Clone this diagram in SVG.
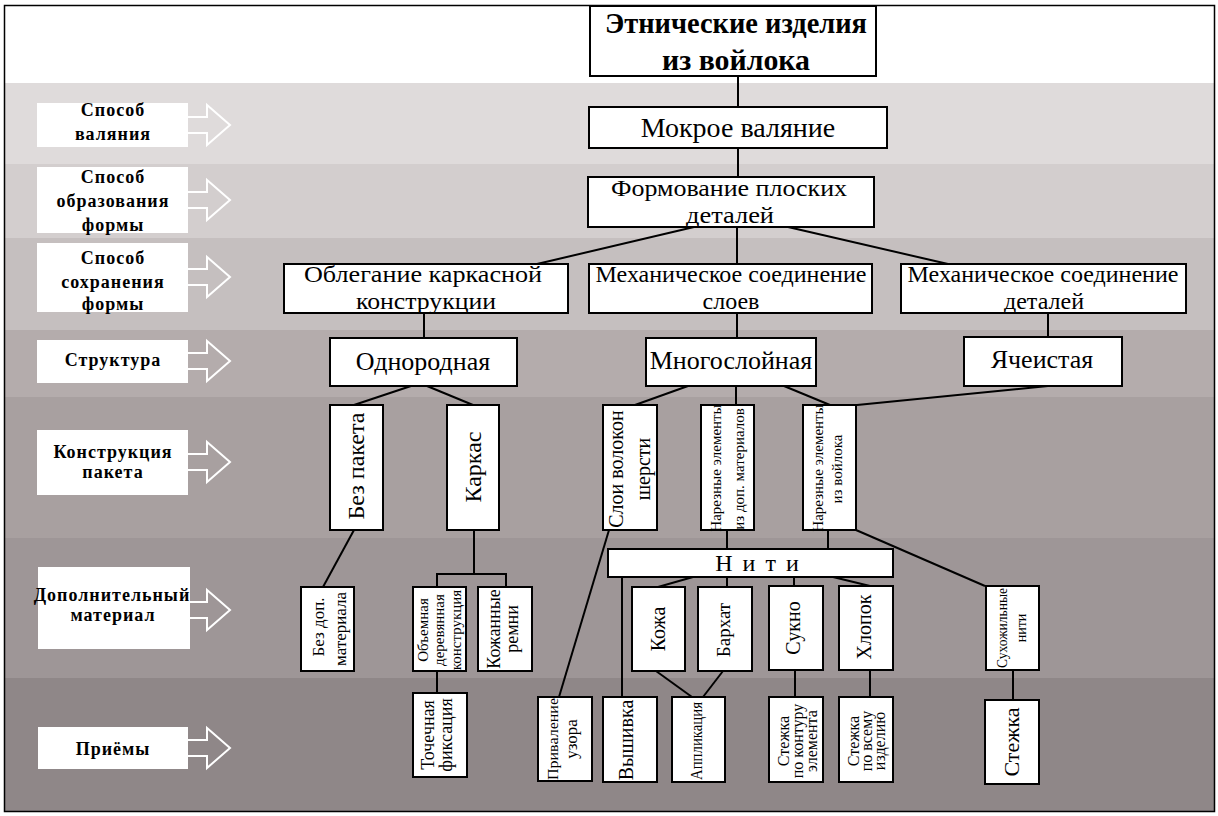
<svg xmlns="http://www.w3.org/2000/svg" width="1218" height="816" viewBox="0 0 1218 816">
<style>
.box{fill:#fff;stroke:#000;stroke-width:2}
.lb{fill:#fff}
.arr{fill:none;stroke:#fff;stroke-width:2;stroke-linejoin:miter}
.t{font-family:"Liberation Serif","Times New Roman",serif;fill:#000;text-anchor:middle}
.b{font-weight:bold;font-size:18px;letter-spacing:1px}
.v{dominant-baseline:central}
.cn{stroke:#000;stroke-width:2;fill:none}
</style>
<defs>
<path id="ar" d="M0,-8 H19 V-20 L42,0 L19,20 V8 H0" class="arr"/>
</defs>
<rect x="0" y="0" width="1218" height="816" fill="#fff"/>
<g id="bands">
<rect x="4" y="83" width="1211" height="81" fill="#dfdbdb"/>
<rect x="4" y="164" width="1211" height="74" fill="#d3cece"/>
<rect x="4" y="238" width="1211" height="92" fill="#c5bfbf"/>
<rect x="4" y="330" width="1211" height="67" fill="#b4acac"/>
<rect x="4" y="397" width="1211" height="141" fill="#a8a0a0"/>
<rect x="4" y="538" width="1211" height="140" fill="#9e9697"/>
<rect x="4" y="678" width="1211" height="134" fill="#8f8788"/>
</g>
<rect x="4.5" y="5.5" width="1210" height="806" fill="none" stroke="#000" stroke-width="1.5"/>

<g id="legend">
<g id="lg1"><rect class="lb" x="37" y="103" width="151" height="44"/><use href="#ar" x="188" y="125"/>
<text class="t b" x="113" y="116">Способ</text><text class="t b" x="113" y="140">валяния</text></g>
<g id="lg2"><rect class="lb" x="37" y="167" width="151" height="66"/><use href="#ar" x="188" y="200"/>
<text class="t b" x="113" y="183">Способ</text><text class="t b" x="113" y="207">образования</text><text class="t b" x="113" y="231">формы</text></g>
<g id="lg3"><rect class="lb" x="37" y="243" width="151" height="69"/><use href="#ar" x="188" y="277"/>
<text class="t b" x="113" y="264">Способ</text><text class="t b" x="113" y="288">сохранения</text><text class="t b" x="113" y="310">формы</text></g>
<g id="lg4"><rect class="lb" x="37" y="340" width="151" height="43"/><use href="#ar" x="188" y="361"/>
<text class="t b" x="113" y="366">Структура</text></g>
<g id="lg5"><rect class="lb" x="37" y="430" width="151" height="65"/><use href="#ar" x="188" y="462"/>
<text class="t b" x="113" y="458">Конструкция</text><text class="t b" x="113" y="478">пакета</text></g>
<g id="lg6"><rect class="lb" x="38" y="567" width="152" height="82"/><use href="#ar" x="188" y="610"/>
<text class="t b" x="112" y="601" letter-spacing="0.3">Дополнительный</text><text class="t b" x="113" y="621">материал</text></g>
<g id="lg7"><rect class="lb" x="38" y="727" width="150" height="42"/><use href="#ar" x="188" y="748"/>
<text class="t b" x="113" y="755">Приёмы</text></g>
</g>

<g id="connectors" class="cn">
<path d="M738 76 V107"/>
<path d="M738 148 V177"/>
<path d="M694 227 L537 264"/>
<path d="M737 227 V264"/>
<path d="M788 227 L948 264"/>
<path d="M424 313 V338"/>
<path d="M737 313 V338"/>
<path d="M1048 313 V337"/>
<path d="M411 386 L354 405"/>
<path d="M427 386 L473 405"/>
<path d="M688 386 L635 405"/>
<path d="M736 386 V405"/>
<path d="M784 386 L830 405"/>
<path d="M1048 386 L857 405"/>
<path d="M354 530 L323 587"/>
<path d="M474 530 V574 M437 587 V574 H506 V587"/>
<path d="M727 530 V549"/>
<path d="M828 530 V549"/>
<path d="M856 530 L985 586"/>
<path d="M609 530 L559 697"/>
<path d="M622 577 V697"/>
<path d="M693 577 L658 587"/>
<path d="M727 577 V587"/>
<path d="M794 577 V586"/>
<path d="M833 577 L870 586"/>
<path d="M437 671 V693"/>
<path d="M656 671 L692 697"/>
<path d="M723 671 L703 697"/>
<path d="M795 670 V697"/>
<path d="M870 670 V697"/>
<path d="M1013 670 V700"/>
</g>

<g id="n-title"><rect class="box" x="590" y="6" width="286" height="70"/>
<text class="t" x="736" y="33" font-size="30" font-weight="bold" textLength="262" lengthAdjust="spacingAndGlyphs">Этнические изделия</text>
<text class="t" x="736" y="70" font-size="30" font-weight="bold" textLength="148" lengthAdjust="spacingAndGlyphs">из войлока</text></g>
<g id="n-mokroe"><rect class="box" x="589" y="107" width="298" height="41"/>
<text class="t" x="738" y="137" font-size="28">Мокрое валяние</text></g>
<g id="n-form"><rect class="box" x="588" y="177" width="286" height="50"/>
<text class="t" x="729" y="196" font-size="24" textLength="236" lengthAdjust="spacingAndGlyphs">Формование плоских</text>
<text class="t" x="730" y="223" font-size="24" textLength="88" lengthAdjust="spacingAndGlyphs">деталей</text></g>
<g id="n-obleg"><rect class="box" x="284" y="264" width="284" height="49"/>
<text class="t" x="423" y="282" font-size="24" textLength="238" lengthAdjust="spacingAndGlyphs">Облегание каркасной</text>
<text class="t" x="426" y="309" font-size="24" textLength="140" lengthAdjust="spacingAndGlyphs">конструкции</text></g>
<g id="n-mechsl"><rect class="box" x="589" y="264" width="283" height="49"/>
<text class="t" x="731" y="282" font-size="24">Механическое соединение</text>
<text class="t" x="731" y="309" font-size="24">слоев</text></g>
<g id="n-mechdet"><rect class="box" x="901" y="264" width="285" height="49"/>
<text class="t" x="1043" y="282" font-size="24">Механическое соединение</text>
<text class="t" x="1044" y="309" font-size="24">деталей</text></g>
<g id="n-odn"><rect class="box" x="330" y="338" width="187" height="48"/>
<text class="t" x="423" y="370" font-size="26">Однородная</text></g>
<g id="n-mnog"><rect class="box" x="646" y="338" width="170" height="48"/>
<text class="t" x="731" y="369" font-size="26">Многослойная</text></g>
<g id="n-yach"><rect class="box" x="964" y="337" width="158" height="49"/>
<text class="t" x="1042" y="368" font-size="26">Ячеистая</text></g>

<g id="n-bezpak"><rect class="box" x="330" y="405" width="53" height="125"/>
<text class="t v" transform="translate(356,466) rotate(-90)" font-size="24">Без пакета</text></g>
<g id="n-karkas"><rect class="box" x="447" y="405" width="52" height="125"/>
<text class="t v" transform="translate(473,467) rotate(-90)" font-size="24">Каркас</text></g>
<g id="n-sloi"><rect class="box" x="603" y="405" width="54" height="125"/>
<text class="t v" transform="translate(616,469) rotate(-90)" font-size="20">Слои волокон</text>
<text class="t v" transform="translate(643,469) rotate(-90)" font-size="20">шерсти</text></g>
<g id="n-nardop"><rect class="box" x="701" y="405" width="53" height="125"/>
<text class="t v" transform="translate(716,468) rotate(-90)" font-size="15">Нарезные элементы</text>
<text class="t v" transform="translate(739,469) rotate(-90)" font-size="15">из доп. материалов</text></g>
<g id="n-narvoil"><rect class="box" x="803" y="405" width="53" height="125"/>
<text class="t v" transform="translate(818,468) rotate(-90)" font-size="15">Нарезные элементы</text>
<text class="t v" transform="translate(837,469) rotate(-90)" font-size="15">из войлока</text></g>

<g id="n-niti"><rect class="box" x="608" y="549" width="285" height="28"/>
<text class="t" x="758" y="571" font-size="24" letter-spacing="2">Н и т и</text></g>

<g id="n-bezdop"><rect class="box" x="301" y="587" width="53" height="84"/>
<text class="t v" transform="translate(318,627) rotate(-90)" font-size="17">Без доп.</text>
<text class="t v" transform="translate(340,629) rotate(-90)" font-size="17">материала</text></g>
<g id="n-obyem"><rect class="box" x="413" y="587" width="53" height="84"/>
<text class="t v" transform="translate(423,630) rotate(-90)" font-size="15">Объемная</text>
<text class="t v" transform="translate(439,630) rotate(-90)" font-size="15">деревянная</text>
<text class="t v" transform="translate(456,630) rotate(-90)" font-size="15">конструкция</text></g>
<g id="n-kozhrem"><rect class="box" x="478" y="587" width="54" height="84"/>
<text class="t v" transform="translate(494,629) rotate(-90)" font-size="18">Кожанные</text>
<text class="t v" transform="translate(512,629) rotate(-90)" font-size="18">ремни</text></g>
<g id="n-kozha"><rect class="box" x="632" y="587" width="53" height="84"/>
<text class="t v" transform="translate(658,629) rotate(-90)" font-size="20">Кожа</text></g>
<g id="n-barhat"><rect class="box" x="698" y="587" width="54" height="84"/>
<text class="t v" transform="translate(723,630) rotate(-90)" font-size="19">Бархат</text></g>
<g id="n-sukno"><rect class="box" x="769" y="586" width="54" height="84"/>
<text class="t v" transform="translate(793,628) rotate(-90)" font-size="20">Сукно</text></g>
<g id="n-hlopok"><rect class="box" x="839" y="586" width="54" height="84"/>
<text class="t v" transform="translate(864,627) rotate(-90)" font-size="20">Хлопок</text></g>
<g id="n-suhozh"><rect class="box" x="986" y="586" width="53" height="84"/>
<text class="t v" transform="translate(1002,628) rotate(-90)" font-size="14" textLength="80" lengthAdjust="spacingAndGlyphs">Сухожильные</text>
<text class="t v" transform="translate(1021,628) rotate(-90)" font-size="14">нити</text></g>

<g id="n-tochech"><rect class="box" x="413" y="693" width="54" height="84"/>
<text class="t v" transform="translate(428,735) rotate(-90)" font-size="18">Точечная</text>
<text class="t v" transform="translate(446,735) rotate(-90)" font-size="18">фиксация</text></g>
<g id="n-privalen"><rect class="box" x="538" y="697" width="54" height="84"/>
<text class="t v" transform="translate(553,739) rotate(-90)" font-size="15" textLength="82" lengthAdjust="spacingAndGlyphs">Приваление</text>
<text class="t v" transform="translate(571,739) rotate(-90)" font-size="17">узора</text></g>
<g id="n-vyshiv"><rect class="box" x="603" y="697" width="54" height="85"/>
<text class="t v" transform="translate(626,740) rotate(-90)" font-size="20">Вышивка</text></g>
<g id="n-applik"><rect class="box" x="672" y="697" width="53" height="85"/>
<text class="t v" transform="translate(696,741) rotate(-90)" font-size="16" textLength="78" lengthAdjust="spacingAndGlyphs">Аппликация</text></g>
<g id="n-stkont"><rect class="box" x="769" y="697" width="54" height="85"/>
<text class="t v" transform="translate(783,741) rotate(-90)" font-size="16">Стежка</text>
<text class="t v" transform="translate(797,741) rotate(-90)" font-size="16">по контуру</text>
<text class="t v" transform="translate(811,741) rotate(-90)" font-size="16">элемента</text></g>
<g id="n-stvsemu"><rect class="box" x="839" y="697" width="54" height="85"/>
<text class="t v" transform="translate(853,741) rotate(-90)" font-size="16">Стежка</text>
<text class="t v" transform="translate(866,741) rotate(-90)" font-size="16">по всему</text>
<text class="t v" transform="translate(879,741) rotate(-90)" font-size="16">изделию</text></g>
<g id="n-stezhka"><rect class="box" x="985" y="700" width="54" height="84"/>
<text class="t v" transform="translate(1011,742) rotate(-90)" font-size="22">Стежка</text></g>
</svg>
